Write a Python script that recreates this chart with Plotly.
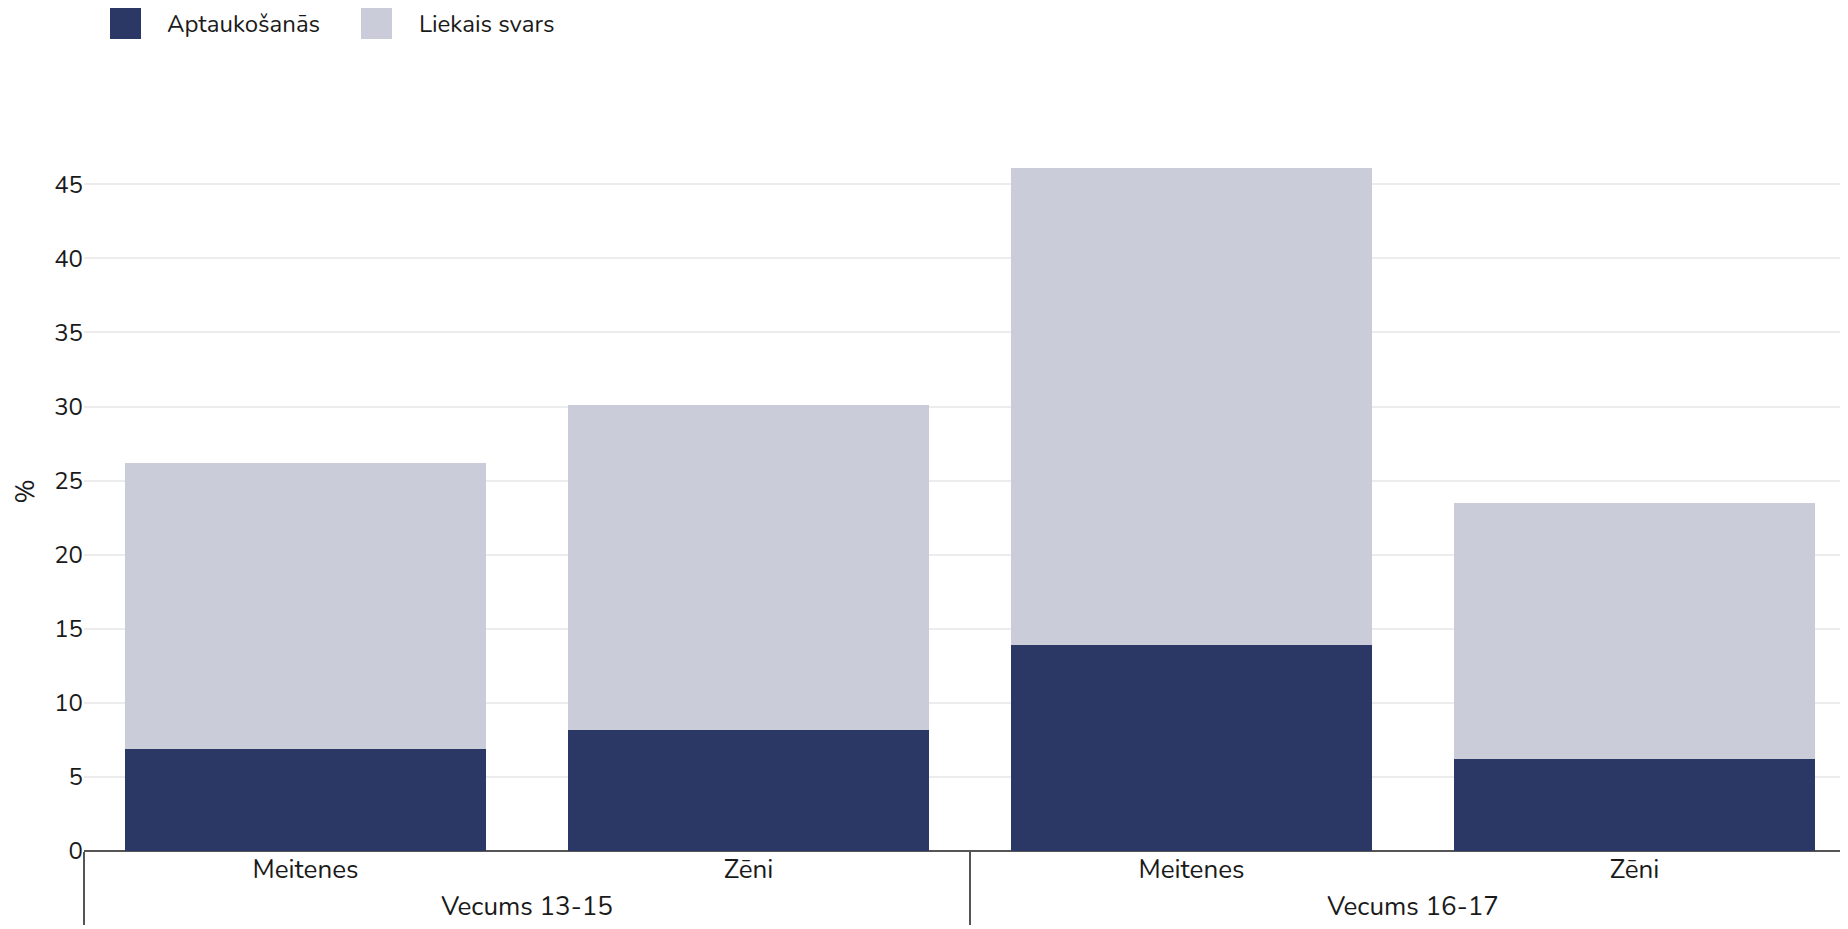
import plotly.graph_objects as go

# Data
age_groups = ["Vecums 13-15", "Vecums 13-15", "Vecums 16-17", "Vecums 16-17"]
genders = ["Meitenes", "Zēni", "Meitenes", "Zēni"]
obesity = [6.9, 8.2, 13.9, 6.2]
overweight = [19.3, 21.9, 32.2, 17.3]
series_names = ["Aptaukošanās", "Liekais svars"]
series_colors = ["#2b3764", "#cacdd9"]
y_ticks = [0, 5, 10, 15, 20, 25, 30, 35, 40, 45]

W, H = 1848, 929
ML, MR, MT, MB = 76, 0, 124, 86
OFF = 8  # page body margin
FONT = "Nunito, 'Open Sans', sans-serif"

fig = go.Figure()
for name, vals, col in zip(series_names, [obesity, overweight], series_colors):
    fig.add_trace(go.Bar(
        x=[age_groups, genders], y=vals, name=name,
        marker=dict(color=col, line=dict(width=0)),
        showlegend=False,
    ))

# Manual legend (large square swatches), positions given in screen pixels
pw = W - ML - MR
ph = H - MT - MB
def px(x):
    return (x - OFF - ML) / pw
def py(y):
    return (H - MB - (y - OFF)) / ph

legend_items = [(110, 167), (361, 419)]
for (sx, tx), name, col in zip(legend_items, series_names, series_colors):
    fig.add_shape(type="rect", xref="paper", yref="paper",
                  x0=px(sx), x1=px(sx + 31), y0=py(39), y1=py(8),
                  fillcolor=col, line=dict(width=0), layer="above")
    fig.add_annotation(xref="paper", yref="paper", x=px(tx - 2), y=py(24),
                       xanchor="left", yanchor="middle", text=name,
                       showarrow=False, font=dict(size=24, color="#1a1a1a", family=FONT))

fig.update_layout(
    width=W, height=H,
    barmode="stack", bargap=0.187,
    margin=dict(l=ML, r=MR, t=MT, b=MB, pad=0),
    paper_bgcolor="white", plot_bgcolor="white",
    font=dict(family=FONT, size=24, color="#1a1a1a"),
    showlegend=False,
    xaxis=dict(type="multicategory", showgrid=False,
               showline=False, ticks="", tickfont=dict(size=26, color="#1a1a1a"),
               showdividers=True, dividercolor="#555", dividerwidth=2),
    yaxis=dict(title=dict(text="%", font=dict(size=26, color="#1a1a1a"), standoff=20),
               tickvals=y_ticks, showgrid=True, gridcolor="#ececec", gridwidth=2,
               zeroline=True, zerolinecolor="#555", zerolinewidth=2,
               showline=False, ticks="", tickfont=dict(size=24, color="#1a1a1a")),
)

fig.write_html("out.html")
